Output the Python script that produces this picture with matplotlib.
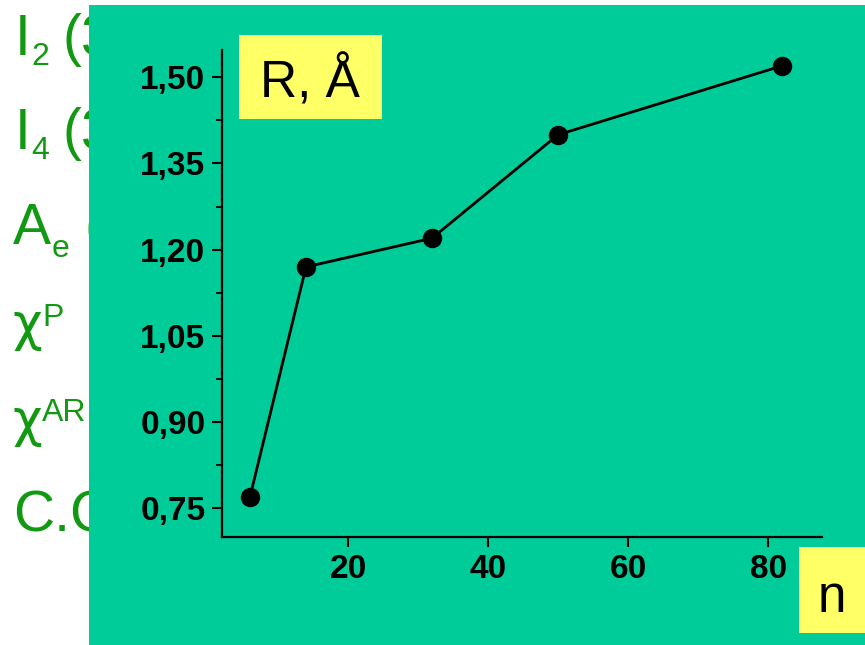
import matplotlib
matplotlib.use("Agg")
import matplotlib.pyplot as plt
from matplotlib.patches import Rectangle
from matplotlib.ticker import FuncFormatter, MultipleLocator, FixedLocator

plt.rcParams['font.family'] = ['Liberation Sans', 'DejaVu Sans']

n_values = [6, 14, 32, 50, 82]
r_values = [0.77, 1.17, 1.22, 1.40, 1.52]
x_ticks = [20, 40, 60, 80]
y_ticks = [0.75, 0.90, 1.05, 1.20, 1.35, 1.50]
side_bases = ["I", "I", "A", "χ", "χ", "C.C"]
side_scripts = ["2", "4", "e", "P", "AR", ""]
side_tails = ["(3", "(3", "(", "", "", ""]

W, H = 865, 645
fig = plt.figure(figsize=(W / 100, H / 100), dpi=100)
fig.patch.set_facecolor('white')

green = '#129912'
# pixel layout for left (partly hidden) text
base_x = [15, 15, 13, 12, 12, 13]
baselines = [55, 149, 244, 340, 436, 531]
base_size = [41, 41, 41, 37, 37, 41]
base_family = [None, None, None, 'DejaVu Sans', 'DejaVu Sans', None]
script_x = [31, 31, 52, 42, 42, 0]
script_y = [65, 159, 257, 326, 421, 0]
script_size = [23, 23, 23, 23, 23, 0]
tail_x = [62, 62, 85, 0, 0, 0]

def fx(px):
    return px / W

def fy(py):
    return 1 - py / H

for i, (b, s, t) in enumerate(zip(side_bases, side_scripts, side_tails)):
    kw = {}
    if base_family[i]:
        kw['family'] = base_family[i]
    fig.text(fx(base_x[i]), fy(baselines[i]), b, color=green, fontsize=base_size[i], va='baseline',
             ha='left', zorder=1, **kw)
    if s:
        fig.text(fx(script_x[i]), fy(script_y[i]), s, color=green, fontsize=script_size[i],
                 va='baseline', ha='left', zorder=1)
    if t:
        fig.text(fx(tail_x[i]), fy(baselines[i]), t, color=green, fontsize=41, va='baseline', ha='left', zorder=1)

teal = '#00CC99'
fig.patches.append(Rectangle((fx(89), 0), 1 - fx(89), 1 - 5 / H, transform=fig.transFigure,
                             facecolor=teal, edgecolor='none', zorder=2))

ax = fig.add_axes([fx(222), (H - 537) / H, (822 - 222) / W, (537 - 50) / H], zorder=3)
ax.patch.set_alpha(0)
ax.plot(n_values, r_values, color='black', lw=2.0, marker='o', markersize=13, zorder=3)
ax.set_xlim(2, 87.7)
ax.set_ylim(0.70, 1.5475)
ax.xaxis.set_major_locator(FixedLocator(x_ticks))
ax.yaxis.set_major_locator(FixedLocator(y_ticks))
ax.yaxis.set_minor_locator(MultipleLocator(0.075))
ax.yaxis.set_major_formatter(FuncFormatter(lambda v, p: f"{v:.2f}".replace('.', ',')))
for s in ['top', 'right']:
    ax.spines[s].set_visible(False)
for s in ['left', 'bottom']:
    ax.spines[s].set_linewidth(1.6)
ax.tick_params(axis='both', which='major', direction='out', length=7, width=1.5, labelsize=24, pad=5)
ax.tick_params(axis='y', which='minor', direction='out', length=4, width=1.3)
for lbl in ax.get_xticklabels() + ax.get_yticklabels():
    lbl.set_fontweight('bold')

yellow = '#FFFF66'
fig.patches.append(Rectangle((fx(239), fy(119)), (382 - 239) / W, (119 - 35) / H, transform=fig.transFigure,
                             facecolor=yellow, edgecolor='none', zorder=4))
fig.text(fx(310), fy(97), "R, Å", fontsize=37, ha='center', va='baseline', zorder=5)
fig.patches.append(Rectangle((fx(799), fy(633)), (865 - 799) / W, (633 - 547) / H, transform=fig.transFigure,
                             facecolor=yellow, edgecolor='none', zorder=4))
fig.text(fx(832), fy(612), "n", fontsize=37, ha='center', va='baseline', zorder=5)

fig.savefig('out.png', dpi=100)
